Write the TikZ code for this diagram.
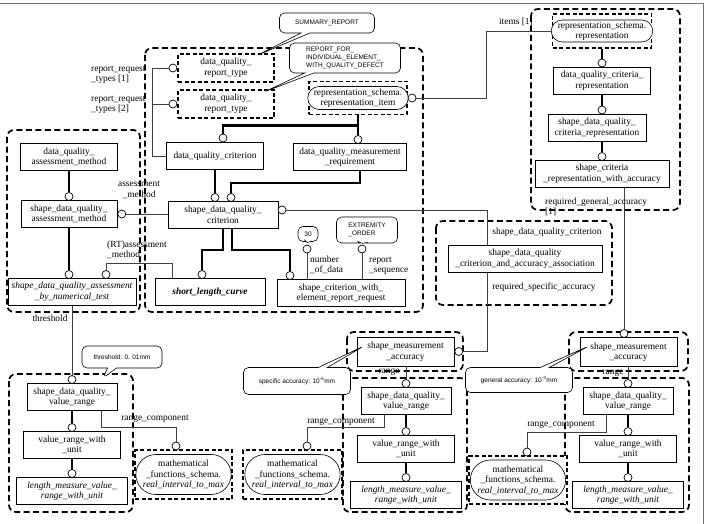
\documentclass[tikz,border=0pt]{standalone}
\usepackage{fontspec}
\setmainfont{Liberation Serif}
\setsansfont{Liberation Sans}
\usetikzlibrary{positioning,calc,shapes.misc,shapes.callouts}
\newcommand{\entfont}{\fontsize{9.4}{10.5}\selectfont}
\tikzset{
  ent/.style={draw,line width=0.8pt,fill=white,align=center,inner sep=1pt,minimum height=27pt,font=\entfont},
  ext/.style={draw,line width=1.4pt,dash pattern=on 4pt off 2.5pt,fill=white,align=center,inner sep=1pt,font=\entfont},
  stad/.style={rounded rectangle,draw,line width=0.6pt,fill=white,align=center,inner sep=1pt,font=\entfont},
  grp/.style={line width=1.7pt,dash pattern=on 6pt off 3.5pt,rounded corners=7pt},
  ring/.style={circle,draw,line width=0.7pt,fill=white,minimum size=8pt,inner sep=0pt},
  sub/.style={line width=2.6pt},
  rel/.style={line width=0.6pt,black!75},
  lbl/.style={font=\entfont,inner sep=0pt},
  note/.style={rectangle callout,rounded corners=5pt,draw,line width=0.6pt,fill=white,align=left,
    inner sep=2pt,callout pointer width=9pt,font=\sffamily\fontsize{6.5}{8}\selectfont},
  outline/.style={line width=0.8pt,black!55},
}
\begin{document}
\begin{tikzpicture}[x=1pt,y=-1pt]
  \useasboundingbox (0,0) rectangle (706,524);
  \draw[outline] (0,3) -- (703,3) -- (703,524);
  % ---- dashed groups ----
  \draw[grp] (145,48) rectangle (423,312);
  \draw[grp] (7,130) rectangle (140,312);
  \draw[grp] (531,9) rectangle (680,210);
  \draw[grp] (436,221) rectangle (612,305);
  \draw[grp] (347,332) rectangle (463,371);
  \draw[grp] (569,332) rectangle (688,371);
  % ---- criterion group ----
  \node[ext,minimum width=96,minimum height=28] (rq1) at (226,68) {data\_quality\_\\report\_type};
  \node[ext,minimum width=96,minimum height=28] (rq2) at (226,104) {data\_quality\_\\report\_type};
  \node[ring,anchor=east] (rr1) at (rq1.west) {};
  \node[ring,anchor=east] (rr2) at (rq2.west) {};
  \node[ext,minimum width=98,minimum height=33] (ri) at (358,98) {};
  \node[stad,minimum width=96,minimum height=23] (rit) at (ri) {representation\_schema.\\representation\_item};
  \node[ring,anchor=west] (rri) at (ri.east) {};
  \node[ent,minimum width=97] (dqc) at (215,156) {data\_quality\_criterion};
  \node[ent,minimum width=113] (dqmr) at (350,157) {data\_quality\_measurement\\\_requirement};
  \node[ent,minimum width=110] (sdqc) at (223,215) {shape\_data\_quality\_\\criterion};
  \node[ent,minimum width=110,font=\entfont\bfseries\itshape] (slc) at (210,292) {short\_length\_curve};
  \node[ent,minimum width=128] (scer) at (341,293) {shape\_criterion\_with\_\\element\_report\_request};
  \node[ring] (rdc) at (223,138) {};
  \node[ring] (rmr) at (358,139.5) {};
  \node[ring] (rs1) at (215,197.5) {};
  \node[ring] (rs2) at (231,197.5) {};
  \node[ring] (rsc) at (282,210) {};
  \node[ring] (rsl) at (202,274.5) {};
  \node[ring] (rcw) at (290,275.5) {};
  \node[ring] (rnd) at (307,249) {};
  \node[ring] (rrs) at (362,249) {};
  % ---- assessment method group ----
  \node[ent,minimum width=97] (dqam) at (69,157) {data\_quality\_\\assessment\_method};
  \node[ent,minimum width=96] (sdqam) at (69,214) {shape\_data\_quality\_\\assessment\_method};
  \node[ent,minimum width=128,font=\entfont\itshape] (nt) at (72,292) {shape\_data\_quality\_assessment\\\_by\_numerical\_test};
  \node[ring] (rsm) at (69,196.5) {};
  \node[ring] (rnt) at (69,274.5) {};
  \node[ring] (rrt) at (106,274.5) {};
  \node[ring,anchor=west] (ram) at (sdqam.east) {};
  % ---- criteria representation group ----
  \node[ext,minimum width=99,minimum height=34] (rep) at (602,31) {};
  \node[stad,minimum width=95,minimum height=22] (rept) at (rep) {representation\_schema.\\representation};
  \node[ent,minimum width=97] (dqcr) at (602,80.5) {data\_quality\_criteria\_\\representation};
  \node[ent,minimum width=98] (sdqcr) at (597,127.5) {shape\_data\_quality\_\\criteria\_representation};
  \node[ent,minimum width=134] (scra) at (602,174) {shape\_criteria\\\_representation\_with\_accuracy};
  \node[ring] (rc1) at (602,63) {};
  \node[ring] (rc2) at (602,110) {};
  \node[ring] (rc3) at (602,156.5) {};
  % ---- accuracies ----
  \node[ent,minimum width=97,minimum height=29] (sma1) at (405.5,351.5) {shape\_measurement\\\_accuracy};
  \node[ent,minimum width=97,minimum height=29] (sma2) at (628.5,352) {shape\_measurement\\\_accuracy};
  \node[ring,anchor=west] (rsa) at (sma1.east) {};
  \node[ring] (rga) at (624,333.5) {};
  % ---- value range stacks ----
  \foreach \i/\x/\y in {1/72/397,2/406/401,3/628/401}{
    \draw[grp] (\x-63,\y-23) rectangle (\x+61,512);
    \node[ent,minimum width=90] (vr\i) at (\x,\y) {shape\_data\_quality\_\\value\_range};
    \node[ent,minimum width=97] (vu\i) at (\x,\y+48) {value\_range\_with\\\_unit};
    \node[ent,minimum width=111,font=\entfont\itshape] (lm\i) at (\x,\y+94) {length\_measure\_value\_\\range\_with\_unit};
    \node[ring] (rv\i) at (\x,\y-17.5) {};
    \node[ring] (ra\i) at (\x,\y+30.5) {};
    \node[ring] (rb\i) at (\x,\y+76.5) {};
    \draw[sub] (vr\i.south) -- (ra\i.north);
    \draw[sub] (vu\i.south) -- (rb\i.north);
  }
  \node[ext,minimum width=97,minimum height=49] (mf1) at (183.5,474.5) {};
  \node[ext,minimum width=99,minimum height=49] (mf2) at (292.5,474.5) {};
  \node[ext,minimum width=98,minimum height=48] (mf3) at (518,480) {};
  \foreach \m in {1,2,3}
    \node[stad,minimum width=94,minimum height=40] (mft\m) at (mf\m) {mathematical\\\_functions\_schema.\\\textit{real\_interval\_to\_max}};
  \node[ring] (rk1) at (176,446) {};
  \node[ring] (rk2) at (307,446) {};
  \node[ring] (rk3) at (527,452) {};
  % ---- subtype lines ----
  \draw[sub] (ri.south) -- (rmr.north);
  \draw[sub] (ri.south) -- ++(0,10) -| (rdc.north);
  \draw[sub] (dqc.south) -- (rs1.north);
  \draw[sub] ([xshift=10pt]dqmr.south) -- ++(0,12) -| (rs2.north);
  \draw[sub] (sdqc.south) -- ++(0,21) -| (rsl.north);
  \draw[sub] ([xshift=9pt]sdqc.south) -- ++(0,21) -| (rcw.north);
  \draw[sub] (dqam.south) -- (rsm.north);
  \draw[sub] (sdqam.south) -- (rnt.north);
  \draw[sub] (rep.south) -- (rc1.north);
  \draw[sub] (dqcr.south) -- (rc2.north);
  \draw[sub] (sdqcr.south -| rc3) -- (rc3.north);
  % ---- attributes ----
  \draw[rel] (rr1.west) -- ++(-16,0) |- (dqc.west);
  \draw[rel] (rr2.west) -- ++(-16,0);
  \draw[rel] (rri.east) -- ++(70,0) |- (rep.west);
  \draw[rel] (ram.east) -- (ram.east -| sdqc.west);
  \draw[rel] (rrt.north) -- ++(0,-7) -| ([xshift=18pt]slc.north west);
  \draw[rel] (rnd.south) -- (rnd.south |- scer.north);
  \draw[rel] (rrs.south) -- (rrs.south |- scer.north);
  \draw[rel] (nt.south -| rv1) -- (rv1.north);
  \draw[rel] (rsc.east) -- ++(201,0) |- (rsa.east);
  \draw[rel] (scra.south -| rga) -- (rga.north);
  \draw[rel] (sma1.south -| rv2) -- (rv2.north);
  \draw[rel] (sma2.south -| rv3) -- (rv3.north);
  \draw[rel] ([xshift=29pt]vr1.south) -- ++(0,16) -| (rk1.north);
  \draw[rel] ([xshift=-22pt]vr2.south) -- ++(0,12) -| (rk2.north);
  \draw[rel] ([xshift=-22pt]vr3.south) -- ++(0,17) -| (rk3.north);
  % association sits over the criterion line
  \node[ent,minimum width=154] (assoc) at (525,259) {shape\_data\_quality\\\_criterion\_and\_accuracy\_association};
  % ---- labels ----
  \node[lbl,align=left,anchor=west] at (91,75) {report\_request\\\_types [1]};
  \node[lbl,align=left,anchor=west] at (91,105) {report\_request\\\_types [2]};
  \node[lbl,anchor=east] at (533,22) {items [1]};
  \node[lbl,align=center] at (139,190) {assessment\\\_method};
  \node[lbl,align=left,anchor=west] at (107,250) {(RT)assessment\\\_method};
  \node[lbl,align=left,anchor=west] at (310,265) {number\\\_of\_data};
  \node[lbl,align=left,anchor=west] at (369,266) {report\\\_sequence};
  \node[lbl,align=left,anchor=west] at (545,207) {required\_general\_accuracy\\{}[1]};
  \node[lbl] at (547,232) {shape\_data\_quality\_criterion};
  \node[lbl] at (544,287) {required\_specific\_accuracy};
  \node[lbl] at (50,318) {threshold};
  \node[lbl] at (389,372) {range};
  \node[lbl] at (613,373) {range};
  \node[lbl] at (155,419) {range\_component};
  \node[lbl] at (341,422) {range\_component};
  \node[lbl] at (561,425) {range\_component};
  % ---- notes ----
  \node[note,minimum width=95,minimum height=20,callout absolute pointer={(258,55)}] (n1) at (327,23) {SUMMARY\_REPORT};
  \node[note,minimum width=111,minimum height=30,callout absolute pointer={(264,92)}] (n2) at (345,58) {REPORT\_FOR\_\\INDIVIDUAL\_ELEMENT\_\\WITH\_QUALITY\_DEFECT};
  \node[note,minimum width=20,minimum height=15,callout pointer width=5pt,callout absolute pointer={(307,245)}] (n3) at (308,234) {30};
  \node[note,minimum width=61,minimum height=26,callout pointer width=6pt,callout absolute pointer={(362,245)}] (n4) at (367,230) {EXTREMITY\\\_ORDER};
  \node[note,minimum width=80,minimum height=22,callout absolute pointer={(103,378)}] (n5) at (122,357) {threshold: 0. 01mm};
  \node[note,minimum width=107,minimum height=27,callout absolute pointer={(364,346)}] (n6) at (297,381) {specific accuracy: 10\textsuperscript{-5}mm};
  \node[note,minimum width=107,minimum height=25,callout absolute pointer={(589,346)}] (n7) at (519,380) {general accuracy: 10\textsuperscript{-3}mm};
\end{tikzpicture}
\end{document}
